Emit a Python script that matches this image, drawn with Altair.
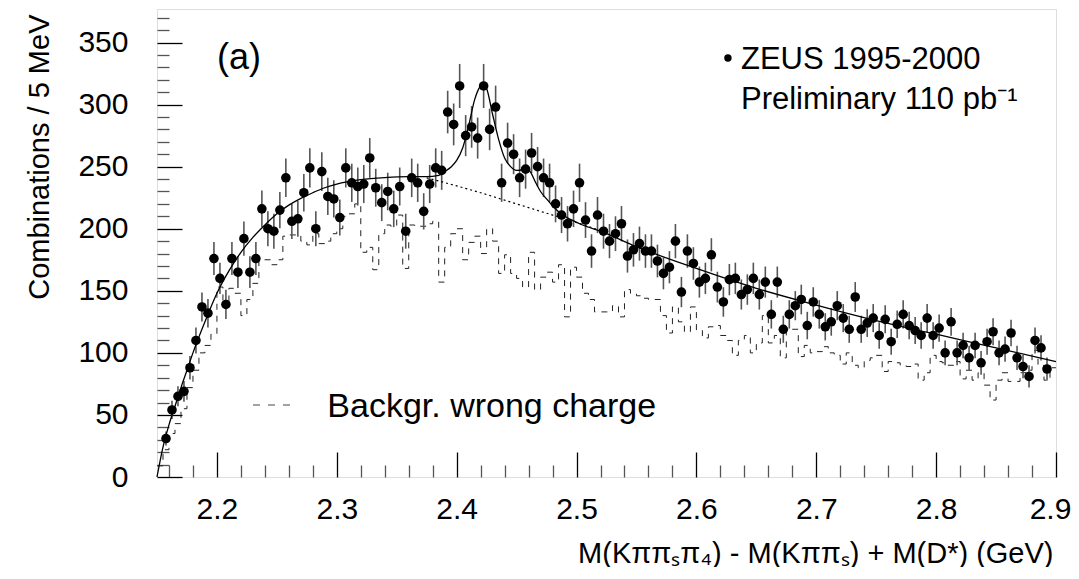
import altair as alt
import numpy as np
import pandas as pd

FONT = "Liberation Sans"
W, H = 899, 468
X_DOM = [2.15, 2.9]
Y_DOM = [0, 377]

# ---------------- data ----------------
bin_width = 0.005
first_centre = 2.1575          # centre of the first filled data bin
counts = [
    31, 54, 65, 69, 88, 110, 137, 132, 176, 160, 139, 176, 165, 192, 165, 176, 216, 200, 198, 215, 241, 206, 208, 229, 249,
    200, 246, 226, 224, 209, 249, 237, 234, 236, 257, 233, 221, 230, 216, 234, 198, 241, 237, 214, 236, 249, 247, 294, 284, 315,
    275, 282, 273, 315, 280, 298, 237, 269, 260, 241, 248, 261, 250, 241, 237, 220, 211, 204, 216, 237, 207, 182, 211, 198, 190,
    196, 204, 178, 183, 188, 182, 182, 174, 164, 169, 190, 149, 182, 172, 157, 160, 179, 153, 141, 159, 160, 147, 151, 160, 147,
    157, 131, 157, 119, 131, 138, 143, 122, 141, 131, 121, 125, 138, 128, 119, 145, 119, 124, 128, 114, 127, 109, 123, 131, 122,
    118, 114, 128, 114, 120, 100, 125, 100, 106, 96, 106, 92, 109, 117, 100, 103, 116, 96, 89, 81, 110, 104, 87,
]

bkg_first_low = 2.15           # low edge of the first wrong-charge bin
bkg_counts = [
    9,
    22, 35, 43, 55, 72, 86, 100, 106, 115, 153, 137, 152, 148, 130, 143, 156, 175, 175, 171, 175, 194, 195, 195, 190, 187,
    196, 188, 190, 196, 200, 210, 212, 220, 181, 185, 167, 196, 203, 202, 211, 168, 203, 202, 202, 204, 206, 157, 185, 196, 200,
    175, 189, 194, 180, 200, 190, 164, 179, 164, 160, 153, 181, 151, 161, 165, 157, 171, 129, 169, 161, 148, 143, 133, 133, 133,
    138, 129, 151, 148, 146, 144, 143, 143, 130, 116, 137, 125, 117, 137, 118, 112, 121, 122, 114, 110, 98, 110, 114, 100, 108,
    130, 108, 114, 96, 118, 119, 97, 106, 100, 101, 105, 100, 98, 91, 100, 90, 88, 94, 96, 98, 85, 93, 92, 90, 89,
    91, 78, 84, 98, 93, 92, 90, 93, 79, 86, 78, 84, 74, 62, 78, 84, 77, 77, 84, 86, 102, 90, 78, 88,
]

fit_x = [2.150, 2.155, 2.160, 2.165, 2.170, 2.175, 2.180, 2.190, 2.200, 2.210, 2.220, 2.230, 2.240, 2.250,
         2.260, 2.270, 2.280, 2.290, 2.300, 2.320, 2.340, 2.360, 2.375, 2.385, 2.390, 2.395, 2.400, 2.405,
         2.410, 2.415, 2.420, 2.4225, 2.425, 2.430, 2.435, 2.440, 2.445, 2.450, 2.455, 2.458, 2.462, 2.466,
         2.470, 2.475, 2.480, 2.487, 2.495, 2.505, 2.520, 2.550, 2.600, 2.650, 2.700, 2.750, 2.800, 2.850, 2.900]
fit_y = [0, 24, 42, 57, 72, 86, 100, 125, 148, 166, 181, 193, 203, 212,
         219, 224.5, 229, 233, 236, 239.5, 241.2, 242, 242, 243, 246, 249.5, 255, 265,
         283, 304, 315, 316.5, 313, 292, 272, 257, 250, 247, 247.5, 249, 245, 237,
         230, 224, 218.5, 212, 207.5, 203, 198, 185.5, 168, 152, 138.5, 126, 115, 104, 93]

bgfit_x = [2.375, 2.385, 2.400, 2.420, 2.440, 2.460, 2.480, 2.500, 2.520]
bgfit_y = [241, 238.5, 234.5, 229, 223, 217, 211, 205, 198.5]

x_major = [2.2, 2.3, 2.4, 2.5, 2.6, 2.7, 2.8, 2.9]
x_labels_main = [2.2, 2.3, 2.4, 2.5, 2.6, 2.7, 2.8]
x_label_edge = [2.9]
y_major = [0, 50, 100, 150, 200, 250, 300, 350]
x_minor = [2.16, 2.18, 2.22, 2.24, 2.26, 2.28, 2.32, 2.34, 2.36, 2.38, 2.42, 2.44, 2.46, 2.48,
           2.52, 2.54, 2.56, 2.58, 2.62, 2.64, 2.66, 2.68, 2.72, 2.74, 2.76, 2.78, 2.82, 2.84, 2.86, 2.88]
y_minor = [10, 20, 30, 40, 60, 70, 80, 90, 110, 120, 130, 140, 160, 170, 180, 190, 210, 220, 230, 240,
           260, 270, 280, 290, 310, 320, 330, 340, 360, 370]

# ---------------- tables ----------------
centres = [round(first_centre + bin_width * i, 4) for i in range(len(counts))]
data = pd.DataFrame({"x": centres, "n": counts})
data["lo"] = data["n"] - np.sqrt(data["n"])
data["hi"] = data["n"] + np.sqrt(data["n"])

edges = [round(bkg_first_low + bin_width * i, 4) for i in range(len(bkg_counts) + 1)]
bkg = pd.DataFrame({"x": edges, "n": bkg_counts + [bkg_counts[-1]]})

fit = pd.DataFrame({"x": fit_x, "y": fit_y})
bgfit = pd.DataFrame({"x": bgfit_x, "y": bgfit_y})

xs = alt.Scale(domain=X_DOM, nice=False, zero=False)
ys = alt.Scale(domain=Y_DOM, nice=False, zero=False)

# ---------------- axes ----------------
label_x_axis = alt.Axis(
    orient="bottom", values=x_labels_main, format=".1f", labelFont=FONT, labelFontSize=30,
    labelColor="black", labelPadding=17, labelFlush=False, labelOverlap=False,
    ticks=False, domain=False, grid=False,
    title="M(Kππₛπ₄) - M(Kππₛ) + M(D*) (GeV)", titleFont=FONT, titleFontSize=29,
    titleFontWeight="normal", titleColor="black", titleAlign="right",
    titleBaseline="alphabetic", titleX=896, titleY=85,
)
edge_x_axis = alt.Axis(
    orient="bottom", values=x_label_edge, format=".1f", labelFont=FONT, labelFontSize=30,
    labelColor="black", labelPadding=17, labelFlush=False, labelOverlap=False, labelOffset=-6,
    ticks=False, domain=False, grid=False, title=None,
)
label_y_axis = alt.Axis(
    orient="left", values=y_major, labelFont=FONT, labelFontSize=30, labelColor="black",
    labelPadding=29, labelFlush=False, labelOverlap=False,
    ticks=False, domain=False, grid=False,
    title="Combinations / 5 MeV", titleFont=FONT, titleFontSize=29, titleFontWeight="normal",
    titleColor="black", titleAngle=270, titleAlign="right", titleBaseline="alphabetic",
    titleX=-109, titleY=5,
)


def tick_axes(xvals, yvals, size, color):
    ax = alt.Axis(orient="top", offset=-H, values=xvals, labels=False, domain=False, grid=False,
                  title=None, tickSize=size, tickWidth=1.3, tickColor=color)
    ay = alt.Axis(orient="right", offset=-W, values=yvals, labels=False, domain=False, grid=False,
                  title=None, tickSize=size, tickWidth=1.3, tickColor=color)
    return ax, ay


major_ax, major_ay = tick_axes(x_major, y_major, 25, "#000000")
minor_ax, minor_ay = tick_axes(x_minor, y_minor, 12, "#555555")


def X(field="x", axis=None):
    return alt.X(f"{field}:Q", scale=xs, axis=axis)


def Y(field="y", axis=None):
    return alt.Y(f"{field}:Q", scale=ys, axis=axis)


hist = alt.Chart(bkg).mark_line(
    interpolate="step-after", color="#222222", strokeWidth=1, strokeDash=[6, 6]
).encode(x=X(axis=minor_ax), y=Y("n", axis=minor_ay))

errs = alt.Chart(data).mark_rule(color="#555555", strokeWidth=1.6).encode(
    x=X(axis=major_ax), y=Y("lo", axis=major_ay), y2="hi:Q"
)

pts = alt.Chart(data).mark_circle(size=92, color="black", opacity=1).encode(
    x=X(axis=label_x_axis), y=Y("n", axis=label_y_axis)
)

fitline = alt.Chart(fit).mark_line(color="black", strokeWidth=1.3, interpolate="monotone").encode(
    x=X(), y=Y()
)
bgline = alt.Chart(bgfit).mark_line(color="black", strokeWidth=1.2, strokeDash=[2, 3]).encode(
    x=X(axis=edge_x_axis), y=Y()
)


def label(x, y, text, size, align="left"):
    df = pd.DataFrame({"x": [x], "y": [y], "t": [text]})
    return alt.Chart(df).mark_text(
        font=FONT, fontSize=size, align=align, baseline="alphabetic", color="black"
    ).encode(x=X(), y=Y(), text="t:N")


t_a = label(2.2, 329, "(a)", 36)
t_zeus = label(2.6372, 328.5, "ZEUS 1995-2000", 31)
t_prel = label(2.6372, 296.5, "Preliminary 110 pb⁻¹", 31)
t_bkg = label(2.2921, 48.3, "Backgr. wrong charge", 34)

leg_dot = alt.Chart(pd.DataFrame({"x": [2.6263], "y": [337.5]})).mark_circle(
    size=55, color="black", opacity=1
).encode(x=X(), y=Y())

leg_dash = alt.Chart(pd.DataFrame({"x": [2.2301], "x2": [2.2651], "y": [58]})).mark_rule(
    color="#444444", strokeWidth=1, strokeDash=[7, 8]
).encode(x=X(), x2="x2:Q", y=Y())

chart = alt.layer(
    hist, errs, pts, fitline, bgline, t_a, t_zeus, t_prel, t_bkg, leg_dot, leg_dash
).properties(
    width=W, height=H,
    padding={"left": 149, "top": 1, "right": 15, "bottom": 90},
    autosize=alt.AutoSizeParams(type="none"),
).configure_view(
    stroke="black", strokeWidth=1.5
).configure(
    background="white"
)

chart.save("out.html", embed_options={"renderer": "svg", "actions": False})
